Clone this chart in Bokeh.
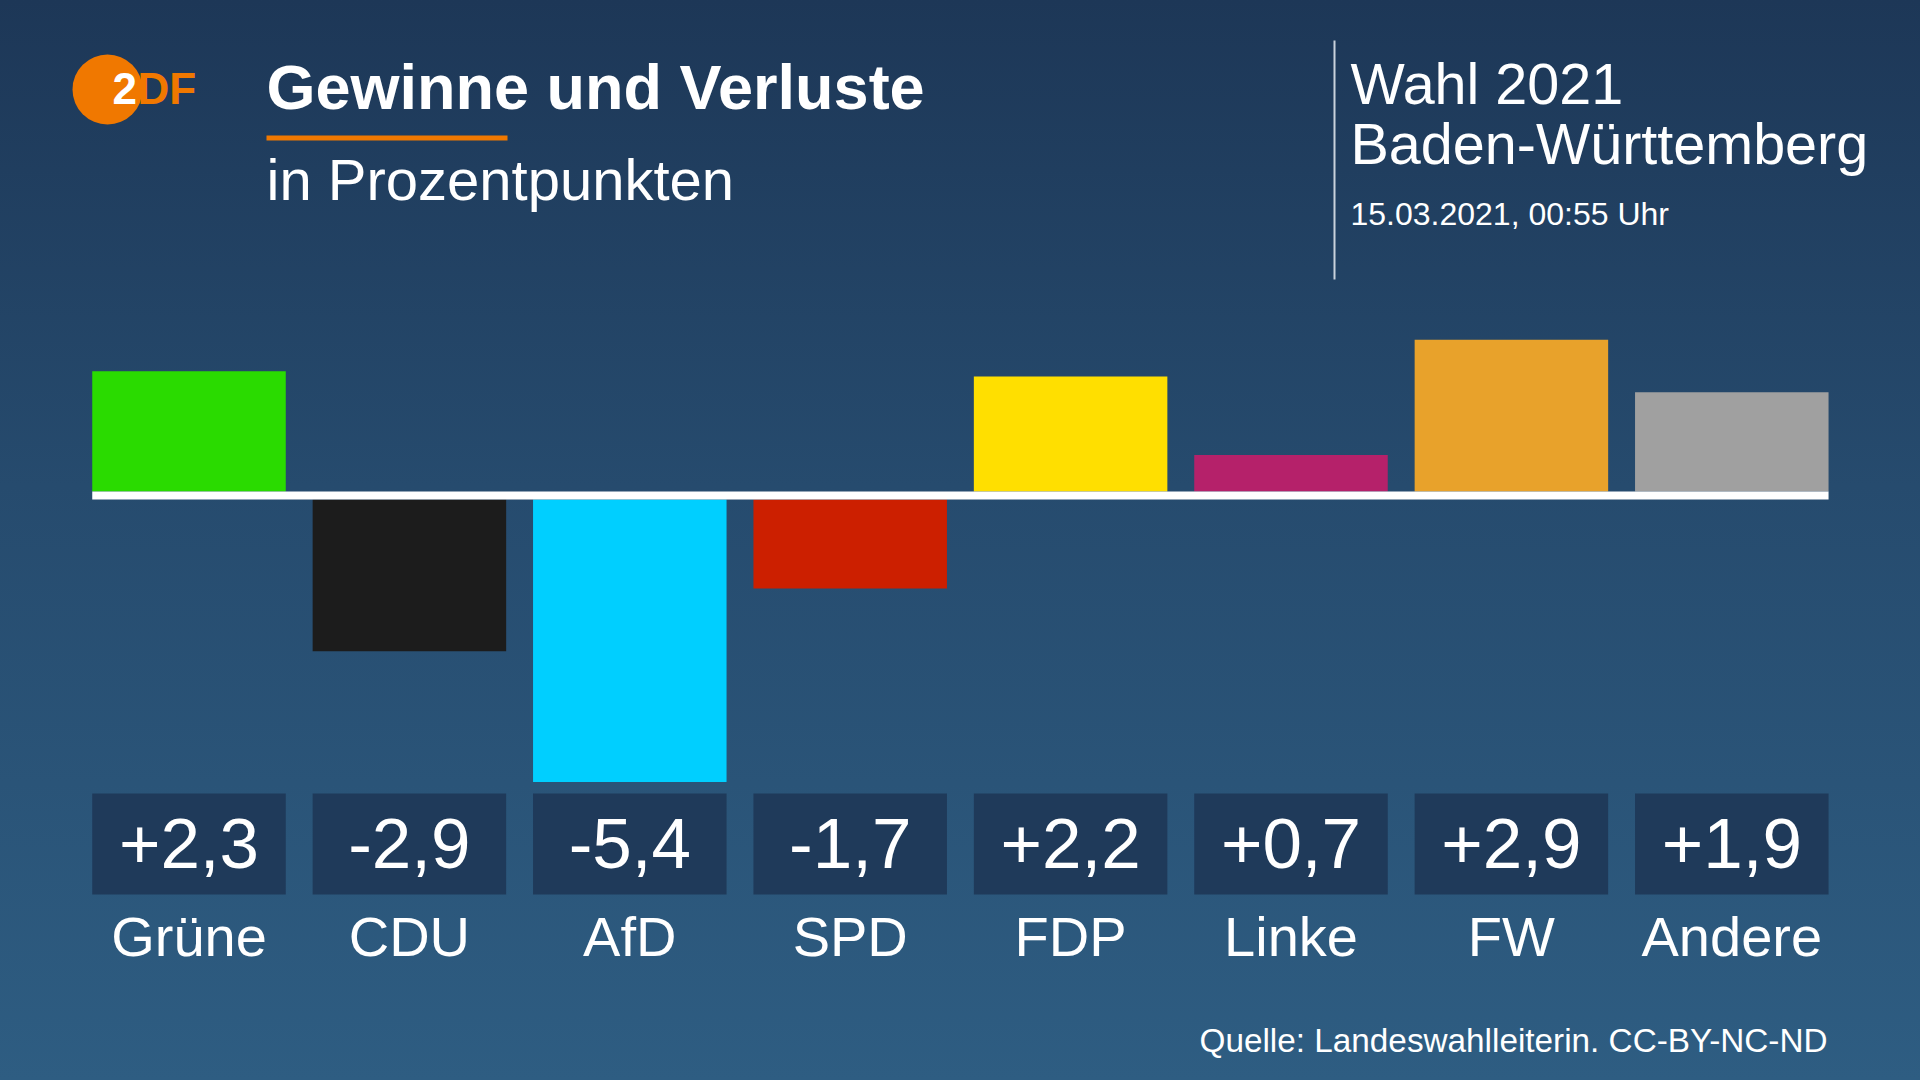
from bokeh.plotting import figure
from bokeh.models import Range1d, Label, BoxAnnotation, ColumnDataSource
from bokeh.embed import file_html
from bokeh.resources import INLINE
from bokeh.core.properties import value

# ---- data ----
parties = ["Grüne", "CDU", "AfD", "SPD", "FDP", "Linke", "FW", "Andere"]
changes = [2.3, -2.9, -5.4, -1.7, 2.2, 0.7, 2.9, 1.9]
party_colors = ["#2adb00", "#1c1c1c", "#00cfff", "#cc1f00",
                "#ffdf00", "#b5216a", "#e8a22b", "#a0a0a0"]
title_text = "Gewinne und Verluste"
subtitle_text = "in Prozentpunkten"
election_text = "Wahl 2021"
region_text = "Baden-Württemberg"
timestamp_text = "15.03.2021, 00:55 Uhr"
source_text = "Quelle: Landeswahlleiterin. CC-BY-NC-ND"

# ---- layout constants (pixels) ----
W, H = 1920, 1080
PX_PER_CAT = 220.4
FIRST_CENTER_PX = 188.5
PX_PER_PT = 52.3
ZERO_PX = 495
ZERO_LINE_W = 8
BAR_W = 0.878
FONT = "Liberation Sans"
BASELINE_FIX = 0.36  # em; compensates text baseline placement


def dx(px):
    return (px - FIRST_CENTER_PX) / PX_PER_CAT


def dy(py):
    return (ZERO_PX - py) / PX_PER_PT


def by(py, size):
    """data y for a text anchor whose baseline should sit at pixel row py"""
    return dy(py - BASELINE_FIX * size)


xs = list(range(len(parties)))
value_labels = [f"{v:+.1f}".replace(".", ",") for v in changes]
half = (ZERO_LINE_W / 2) / PX_PER_PT
signs = [1 if v >= 0 else -1 for v in changes]
bar_bottom = [s * half for s in signs]
bar_top = [v + s * half for v, s in zip(changes, signs)]

src = ColumnDataSource(dict(x=xs, party=parties, change=changes,
                            top=bar_top, bottom=bar_bottom,
                            color=party_colors, label=value_labels))

p = figure(width=W, height=H,
           x_range=Range1d(dx(0), dx(W)), y_range=Range1d(dy(H), dy(0)),
           output_backend="svg", toolbar_location=None,
           x_axis_location=None, y_axis_location=None,
           min_border=0, min_border_left=0, min_border_right=0,
           min_border_top=0, min_border_bottom=0)
p.grid.visible = False
p.outline_line_color = None
p.background_fill_color = None
p.border_fill_color = None
p.styles = {"background": "linear-gradient(180deg, #1d3757 0%, #264b6e 45%, #2e5d82 100%)"}

# bars
p.vbar(x="x", top="top", bottom="bottom", width=BAR_W, fill_color="color",
       line_color=None, source=src)
# zero line
p.segment(x0=[xs[0] - BAR_W / 2], x1=[xs[-1] + BAR_W / 2], y0=[0], y1=[0],
          line_color="white", line_width=ZERO_LINE_W, line_cap="butt")

# value boxes
p.vbar(x="x", top=dy(793), bottom=dy(894), width=BAR_W, fill_color="#1f3a5a",
       line_color=None, source=src)
p.text(x="x", y=by(869, 71), text="label", source=src, text_align="center",
       text_baseline="alphabetic", text_color="white",
       text_font=value(FONT), text_font_size="71px")
p.text(x="x", y=by(956, 56), text="party", source=src, text_align="center",
       text_baseline="alphabetic", text_color="white",
       text_font=value(FONT), text_font_size="56px")

# logo
p.scatter(x=[dx(107)], y=[dy(89)], size=70, marker="circle",
          fill_color="#f07800", line_color=None)
p.add_layout(Label(x=dx(112), y=by(104, 44), text="2", text_font=FONT,
                   text_font_style="bold", text_font_size="44px",
                   text_color="white", text_baseline="alphabetic"))
p.add_layout(Label(x=dx(137), y=by(104, 44), text="DF", text_font=FONT,
                   text_font_style="bold", text_font_size="44px",
                   text_color="#f07800", text_baseline="alphabetic"))

# titles
p.add_layout(Label(x=dx(266), y=by(109, 63), text=title_text, text_font=FONT,
                   text_font_style="bold", text_font_size="63px",
                   text_color="white", text_baseline="alphabetic"))
p.add_layout(BoxAnnotation(left=dx(266), right=dx(507), top=dy(135),
                           bottom=dy(140), fill_color="#f07800",
                           fill_alpha=1, line_color=None))
p.add_layout(Label(x=dx(266), y=by(200, 58), text=subtitle_text, text_font=FONT,
                   text_font_size="58px", text_color="white",
                   text_baseline="alphabetic"))

# right header
p.segment(x0=[dx(1334)], x1=[dx(1334)], y0=[dy(40)], y1=[dy(279)],
          line_color="#c9d2dc", line_width=2)
p.add_layout(Label(x=dx(1350), y=by(104, 57.5), text=election_text, text_font=FONT,
                   text_font_size="57.5px", text_color="white",
                   text_baseline="alphabetic"))
p.add_layout(Label(x=dx(1350), y=by(164, 57.5), text=region_text, text_font=FONT,
                   text_font_size="57.5px", text_color="white",
                   text_baseline="alphabetic"))
p.add_layout(Label(x=dx(1350), y=by(225, 32), text=timestamp_text, text_font=FONT,
                   text_font_size="32px", text_color="white",
                   text_baseline="alphabetic"))

# source
p.add_layout(Label(x=dx(1827), y=by(1052, 33.3), text=source_text, text_font=FONT,
                   text_font_size="33.3px", text_color="white",
                   text_align="right", text_baseline="alphabetic"))

html = file_html(p, INLINE)
html = html.replace("</head>",
                    "<style>html,body{margin:0;padding:0;background:#1d3757;}</style></head>", 1)
open("out.html", "w").write(html)
